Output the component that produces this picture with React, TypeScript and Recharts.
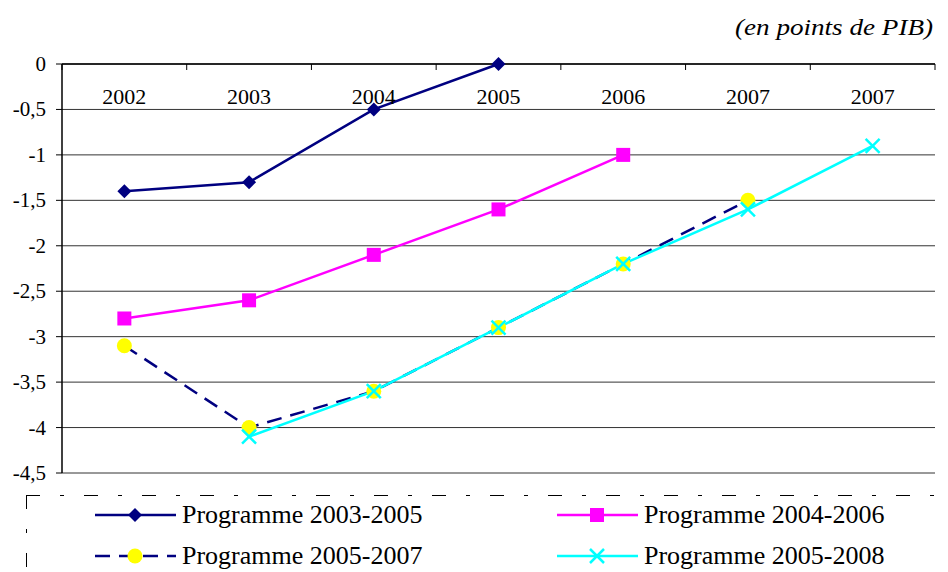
import { LineChart, Line, XAxis, YAxis, CartesianGrid } from 'recharts';

const CATEGORIES = ['2002', '2003', '2004', '2005', '2006', '2007', '2007'];
const PROG_2003_2005 = [-1.4, -1.3, -0.5, 0, null, null, null];
const PROG_2004_2006 = [-2.8, -2.6, -2.1, -1.6, -1.0, null, null];
const PROG_2005_2007 = [-3.1, -4.0, -3.6, -2.9, -2.2, -1.5, null];
const PROG_2005_2008 = [null, -4.1, -3.6, -2.9, -2.2, -1.6, -0.9];
const Y_TICKS = [0, -0.5, -1, -1.5, -2, -2.5, -3, -3.5, -4, -4.5];

const NAVY = '#000080';
const MAGENTA = '#ff00ff';
const YELLOW = '#ffff00';
const CYAN = '#00ffff';
const FONT = "'Liberation Serif', serif";

const W = 948;
const H = 572;
const LEFT = 62;
const RIGHT = 935;
const TOP = 64;
const BOTTOM = 473;
const XAXIS_H = 30;
const BAND = (RIGHT - LEFT) / CATEGORIES.length;

// unique key per slot, since the last two categories share a label
const data = CATEGORIES.map((label, i) => ({
  slot: `s${i}`,
  label,
  p1: PROG_2003_2005[i],
  p2: PROG_2004_2006[i],
  p3: PROG_2005_2007[i],
  p4: PROG_2005_2008[i],
}));

const Diamond = ({ cx, cy }: { cx: number; cy: number }) => (
  <polygon points={`${cx},${cy - 7} ${cx + 7},${cy} ${cx},${cy + 7} ${cx - 7},${cy}`} fill={NAVY} />
);
const Square = ({ cx, cy }: { cx: number; cy: number }) => (
  <rect x={cx - 7} y={cy - 7} width={14} height={14} fill={MAGENTA} />
);
const Dot = ({ cx, cy }: { cx: number; cy: number }) => <circle cx={cx} cy={cy} r={7.5} fill={YELLOW} />;
const Cross = ({ cx, cy }: { cx: number; cy: number }) => (
  <g stroke={CYAN} strokeWidth={2.5}>
    <line x1={cx - 7} y1={cy - 7} x2={cx + 7} y2={cy + 7} />
    <line x1={cx - 7} y1={cy + 7} x2={cx + 7} y2={cy - 7} />
  </g>
);

const dotOf = (Shape: any) => (props: any) => {
  const { cx, cy, index, value } = props;
  if (value == null || cy == null || isNaN(cy)) return <g key={`e-${index}`} />;
  return (
    <g key={`d-${index}`}>
      <Shape cx={cx} cy={cy} />
    </g>
  );
};

const YearTick = (props: any) => {
  const { x, index } = props;
  return (
    <g>
      <line x1={x - BAND / 2} y1={TOP} x2={x - BAND / 2} y2={TOP + 6} stroke="#000" />
      {index === CATEGORIES.length - 1 && (
        <line x1={x + BAND / 2} y1={TOP} x2={x + BAND / 2} y2={TOP + 6} stroke="#000" />
      )}
      <text x={x} y={TOP + 40} textAnchor="middle" fontSize={22} fontFamily={FONT} fill="#000">
        {CATEGORIES[index]}
      </text>
    </g>
  );
};

const ValueTick = (props: any) => {
  const { x, y, payload } = props;
  return (
    <text x={x} y={y + 7} textAnchor="end" fontSize={21} fontFamily={FONT} fill="#000">
      {String(payload.value).replace('.', ',')}
    </text>
  );
};

const LEGEND = [
  { name: 'Programme 2003-2005', color: NAVY, dash: undefined, Shape: Diamond, col: 0, row: 0 },
  { name: 'Programme 2004-2006', color: MAGENTA, dash: undefined, Shape: Square, col: 1, row: 0 },
  { name: 'Programme 2005-2007', color: NAVY, dash: '15 9', Shape: Dot, col: 0, row: 1 },
  { name: 'Programme 2005-2008', color: CYAN, dash: undefined, Shape: Cross, col: 1, row: 1 },
];

function LegendBox() {
  const lw = W - 26;
  const lh = H - 495;
  return (
    <svg width={lw} height={lh} style={{ position: 'absolute', left: 26, top: 495 }}>
      <line x1={0} y1={0.5} x2={lw} y2={0.5} stroke="#000" strokeDasharray="14 20 4 20" />
      <line x1={0.5} y1={0} x2={0.5} y2={lh} stroke="#000" strokeDasharray="14 20 4 20" />
      {LEGEND.map((it) => {
        const x0 = it.col === 0 ? 69 : 531;
        const y = it.row === 0 ? 20 : 61;
        return (
          <g key={it.name}>
            <line x1={x0} y1={y} x2={x0 + 81} y2={y} stroke={it.color} strokeWidth={2.5} strokeDasharray={it.dash} />
            <it.Shape cx={x0 + 40} cy={y} />
            <text x={x0 + 87} y={y + 8} fontSize={26} fontFamily={FONT} fill="#000">
              {it.name}
            </text>
          </g>
        );
      })}
    </svg>
  );
}

export default function App() {
  return (
    <div style={{ position: 'relative', width: W, height: H, background: '#fff' }}>
      <style>{'body{margin:0}'}</style>
      <LineChart
        width={W}
        height={H}
        data={data}
        margin={{ top: TOP - XAXIS_H, right: W - RIGHT, bottom: H - BOTTOM, left: 0 }}
      >
        <CartesianGrid vertical={false} stroke="#333" strokeWidth={1} />
        <XAxis
          dataKey="slot"
          orientation="top"
          height={XAXIS_H}
          padding={{ left: BAND / 2, right: BAND / 2 }}
          axisLine={{ stroke: '#000', strokeWidth: 1.5 }}
          tickLine={false}
          tick={<YearTick />}
          interval={0}
        />
        <YAxis
          width={LEFT}
          domain={[-4.5, 0]}
          ticks={Y_TICKS}
          interval={0}
          axisLine={{ stroke: '#000', strokeWidth: 1.5 }}
          tickLine={{ stroke: '#000' }}
          tickSize={6}
          tickMargin={10}
          tick={<ValueTick />}
        />
        <Line dataKey="p1" stroke={NAVY} strokeWidth={2.5} dot={dotOf(Diamond)} isAnimationActive={false} />
        <Line dataKey="p2" stroke={MAGENTA} strokeWidth={2.5} dot={dotOf(Square)} isAnimationActive={false} />
        <Line
          dataKey="p3"
          stroke={NAVY}
          strokeWidth={2.5}
          strokeDasharray="15 9"
          dot={dotOf(Dot)}
          isAnimationActive={false}
        />
        <Line dataKey="p4" stroke={CYAN} strokeWidth={2.5} dot={dotOf(Cross)} isAnimationActive={false} />
      </LineChart>
      <svg width={W} height={50} style={{ position: 'absolute', left: 0, top: 0 }}>
        <text
          x={735}
          y={35}
          fontSize={24}
          fontStyle="italic"
          fontFamily={FONT}
          fill="#000"
          textLength={198}
          lengthAdjust="spacingAndGlyphs"
        >
          (en points de PIB)
        </text>
      </svg>
      <LegendBox />
    </div>
  );
}
